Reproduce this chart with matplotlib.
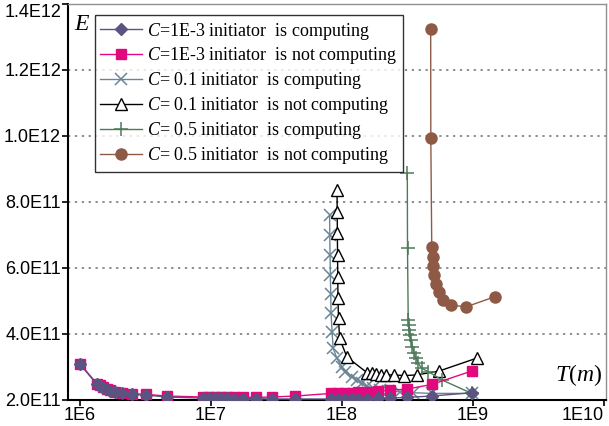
import matplotlib
matplotlib.use("Agg")
from matplotlib import pyplot as plt

# C = 1E-3
t_a = [1.0e6, 1.34e6, 1.42e6, 1.51e6, 1.6e6, 1.69e6, 1.85e6, 2.08e6, 2.48e6, 3.19e6,
       4.6e6, 8.7e6, 9.7e6, 1.07e7, 1.19e7, 1.32e7, 1.5e7, 1.75e7, 2.2e7, 2.9e7,
       4.4e7, 8.3e7, 9.3e7, 1.05e8, 1.19e8, 1.32e8, 1.54e8, 1.89e8, 2.32e8, 3.12e8,
       4.83e8, 9.8e8]
e_a_comp = [3.08e11, 2.48e11, 2.42e11, 2.37e11, 2.32e11, 2.27e11, 2.23e11, 2.2e11, 2.17e11, 2.15e11,
            2.09e11, 2.06e11, 2.05e11, 2.05e11, 2.05e11, 2.05e11, 2.04e11, 2.04e11, 2.04e11, 2.03e11,
            2.03e11, 2.03e11, 2.03e11, 2.03e11, 2.03e11, 2.04e11, 2.04e11, 2.05e11, 2.06e11, 2.08e11,
            2.12e11, 2.22e11]
e_a_not = [3.1e11, 2.5e11, 2.44e11, 2.39e11, 2.34e11, 2.29e11, 2.25e11, 2.22e11, 2.19e11, 2.17e11,
           2.12e11, 2.09e11, 2.08e11, 2.08e11, 2.08e11, 2.08e11, 2.08e11, 2.08e11, 2.08e11, 2.09e11,
           2.12e11, 2.2e11, 2.2e11, 2.21e11, 2.22e11, 2.23e11, 2.25e11, 2.27e11, 2.3e11, 2.33e11,
           2.47e11, 2.88e11]

# C = 0.1 initiator is computing
t_b_comp = [8.04e7, 8.06e7, 8.1e7, 8.14e7, 8.2e7, 8.24e7, 8.4e7, 8.54e7, 9.12e7, 9.96e7,
            1.05e8, 1.19e8, 1.29e8, 1.41e8, 1.55e8, 1.73e8, 1.95e8, 2.26e8, 2.77e8, 3.5e8,
            4.84e8, 9.77e8]
e_b_comp = [7.61e11, 7.0e11, 6.39e11, 5.79e11, 5.21e11, 4.64e11, 4.06e11, 3.58e11, 3.27e11, 3.01e11,
            2.86e11, 2.71e11, 2.61e11, 2.51e11, 2.42e11, 2.35e11, 2.3e11, 2.27e11, 2.25e11, 2.22e11,
            2.2e11, 2.2e11]

# C = 0.1 initiator is not computing
t_b_not = [9.16e7, 9.18e7, 9.21e7, 9.24e7, 9.27e7, 9.31e7, 9.4e7, 9.57e7, 1.09e8, 1.55e8,
           1.69e8, 1.82e8, 1.97e8, 2.17e8, 2.51e8, 2.99e8, 3.72e8, 5.53e8, 1.07e9]
e_b_not = [8.36e11, 7.71e11, 7.05e11, 6.39e11, 5.74e11, 5.08e11, 4.48e11, 3.87e11, 3.3e11, 2.83e11,
           2.82e11, 2.79e11, 2.77e11, 2.76e11, 2.76e11, 2.74e11, 2.76e11, 2.88e11, 3.27e11]

# C = 0.5 initiator is computing
t_c_comp = [3.15e8, 3.16e8, 3.2e8, 3.24e8, 3.27e8, 3.3e8, 3.36e8, 3.44e8, 3.55e8, 3.67e8,
            3.82e8, 4.06e8, 4.56e8, 5.77e8, 9.77e8]
e_c_comp = [8.88e11, 6.61e11, 4.42e11, 4.27e11, 4.12e11, 3.97e11, 3.82e11, 3.62e11, 3.41e11, 3.26e11,
            3.11e11, 2.96e11, 2.86e11, 2.61e11, 2.2e11]

# C = 0.5 initiator is not computing
t_c_not = [4.75e8, 4.76e8, 4.84e8, 4.92e8, 4.98e8, 5.07e8, 5.22e8, 5.47e8, 5.93e8, 6.79e8,
           8.8e8, 1.47e9]
e_c_not = [1.324e12, 9.93e11, 6.65e11, 6.34e11, 6.06e11, 5.78e11, 5.51e11, 5.26e11, 5.03e11, 4.88e11,
           4.82e11, 5.13e11]

y_ticks = [2.0e11, 4.0e11, 6.0e11, 8.0e11, 1.0e12, 1.2e12, 1.4e12]
y_labels = ["2.0E11", "4.0E11", "6.0E11", "8.0E11", "1.0E12", "1.2E12", "1.4E12"]
x_ticks = [1e6, 1e7, 1e8, 1e9, 1e10]
x_labels = ["1E6", "1E7", "1E8", "1E9", "1E10"]

plt.rcParams["mathtext.fontset"] = "custom"
plt.rcParams["mathtext.it"] = "Liberation Serif:italic"
plt.rcParams["mathtext.rm"] = "Liberation Serif"

fig = plt.figure(figsize=(6.09, 4.26), dpi=100)
ax = fig.add_axes([68 / 609, 1 - 400 / 426, 538 / 609, 396 / 426])

lw = 1.0
ax.plot(t_a, e_a_comp, color="#5b5380", lw=lw, marker="D", ms=6.5, zorder=6,
        label=r"$\it{C}$=1E-3 initiator  is computing")
ax.plot(t_a, e_a_not, color="#e2097f", lw=lw, marker="s", ms=7.5, zorder=5,
        label=r"$\it{C}$=1E-3 initiator  is not computing")
ax.plot(t_b_comp, e_b_comp, color="#6a8595", lw=lw, marker="x", ms=8, mew=1.1, zorder=4,
        label=r"$\it{C}$= 0.1 initiator  is computing")
ax.plot(t_b_not, e_b_not, color="black", lw=lw, marker="^", ms=8, mfc="white", mew=1.0, zorder=4,
        label=r"$\it{C}$= 0.1 initiator  is not computing")
ax.plot(t_c_comp, e_c_comp, color="#4e7a5a", lw=lw, marker="+", ms=10, mew=1.1, zorder=4,
        label=r"$\it{C}$= 0.5 initiator  is computing")
ax.plot(t_c_not, e_c_not, color="#8e5a45", lw=lw, marker="o", ms=8, zorder=4,
        label=r"$\it{C}$= 0.5 initiator  is not computing")

ax.set_xscale("log")
ax.set_xlim(10 ** 5.908, 10 ** 10.015)
ax.set_ylim(2.0e11, 1.4e12)
ax.set_xticks(x_ticks)
ax.set_xticklabels(x_labels)
ax.set_yticks(y_ticks)
ax.set_yticklabels(y_labels)
ax.minorticks_off()
ax.tick_params(axis="both", direction="out", length=4, width=1.2, labelsize=13, pad=1)
for lab in ax.get_xticklabels() + ax.get_yticklabels():
    lab.set_family("Liberation Sans")
# keep the end labels inside the figure, as in the original
ax.get_xticklabels()[-1].set_horizontalalignment("right")
ax.get_yticklabels()[-1].set_verticalalignment("top")

ax.yaxis.grid(True, color="#707070", linestyle=(0, (1.5, 3)), lw=1.1)
ax.set_axisbelow(True)
for s in ["left", "bottom"]:
    ax.spines[s].set_linewidth(1.5)
    ax.spines[s].set_color("black")
for s in ["top", "right"]:
    ax.spines[s].set_linewidth(1.0)
    ax.spines[s].set_color("#909090")

ax.text(0.012, 0.975, "E", transform=ax.transAxes, fontsize=17, style="italic",
        family="Liberation Serif", va="top", ha="left")
ax.text(0.993, 0.03, r"$\it{T}\mathrm{(}\it{m}\mathrm{)}$", transform=ax.transAxes, fontsize=17,
        va="bottom", ha="right")

leg = ax.legend(loc="upper left", bbox_to_anchor=(0.05, 0.972), borderaxespad=0,
                prop={"family": "Liberation Serif", "size": 13}, frameon=True, fancybox=False,
                edgecolor="black", handlelength=2.3, handletextpad=0.3, labelspacing=0.22,
                borderpad=0.3, numpoints=1)
leg.get_frame().set_linewidth(1.0)
leg.set_zorder(10)

fig.savefig("out.png", dpi=100)
